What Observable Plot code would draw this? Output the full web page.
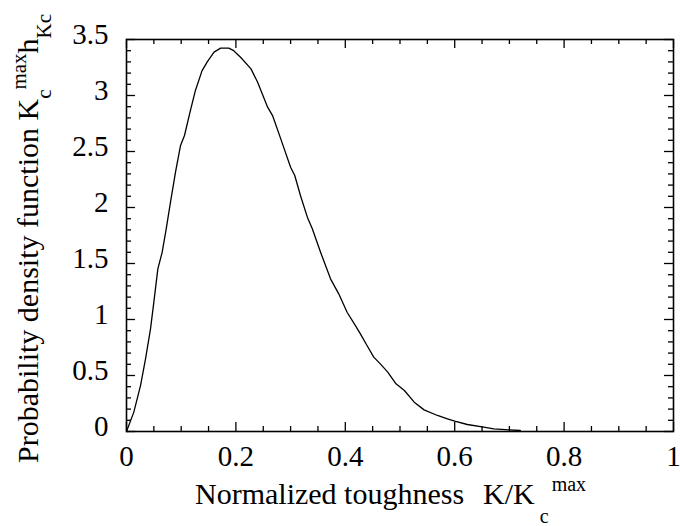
<!DOCTYPE html>
<html>
<head>
<meta charset="utf-8">
<script src="https://cdn.jsdelivr.net/npm/d3@7"></script>
<script src="https://cdn.jsdelivr.net/npm/@observablehq/plot@0.6"></script>
<style>
  html, body { margin: 0; padding: 0; background: white; }
  svg text { font-family: "Liberation Serif", "Times New Roman", serif; }
</style>
</head>
<body>
<div id="chart"></div>
<script>
// Normalized toughness K/Kc^max
const toughness = [0, 0.0134, 0.0256, 0.0348, 0.0439, 0.05, 0.0573, 0.0652, 0.0726, 0.0805, 0.0896, 0.0988, 0.106, 0.116, 0.126, 0.138, 0.1476, 0.16, 0.172, 0.187, 0.196, 0.2085, 0.2276, 0.2397, 0.258, 0.267, 0.282, 0.300, 0.3076, 0.318, 0.3306, 0.3397, 0.3548, 0.373, 0.388, 0.4033, 0.4185, 0.4276, 0.4397, 0.452, 0.464, 0.4776, 0.4927, 0.508, 0.526, 0.544, 0.5685, 0.5867, 0.6, 0.623, 0.653, 0.6715, 0.699, 0.72];
// Probability density Kc^max h_Kc
const density = [0, 0.173, 0.41, 0.649, 0.917, 1.155, 1.452, 1.60, 1.81, 2.05, 2.315, 2.554, 2.643, 2.85, 3.045, 3.22, 3.30, 3.387, 3.423, 3.423, 3.40, 3.342, 3.238, 3.119, 2.896, 2.821, 2.613, 2.36, 2.286, 2.107, 1.914, 1.81, 1.60, 1.363, 1.229, 1.065, 0.946, 0.872, 0.768, 0.664, 0.604, 0.53, 0.426, 0.366, 0.262, 0.193, 0.143, 0.113, 0.092, 0.0625, 0.039, 0.024, 0.015, 0.009];

const xMajor = [0, 0.2, 0.4, 0.6, 0.8, 1];
const xMinor = [0.05, 0.1, 0.15, 0.25, 0.3, 0.35, 0.45, 0.5, 0.55, 0.65, 0.7, 0.75, 0.85, 0.9, 0.95];
const yMajor = [0, 0.5, 1, 1.5, 2, 2.5, 3, 3.5];
const yMinor = [0.1, 0.2, 0.3, 0.4, 0.6, 0.7, 0.8, 0.9, 1.1, 1.2, 1.3, 1.4, 1.6, 1.7, 1.8, 1.9, 2.1, 2.2, 2.3, 2.4, 2.6, 2.7, 2.8, 2.9, 3.1, 3.2, 3.3, 3.4];

const data = toughness.map((x, i) => ({x, y: density[i]}));

const W = 680, H = 526;
const mL = 126, mR = 7, mT = 39, mB = 95;
const pw = W - mL - mR, ph = H - mT - mB;
const majorLen = 9, minorLen = 5;

const chart = Plot.plot({
  width: W,
  height: H,
  marginLeft: mL,
  marginRight: mR,
  marginTop: mT,
  marginBottom: mB,
  style: {fontFamily: "Liberation Serif", fontSize: "29px", background: "white", color: "black"},
  x: {domain: [0, 1]},
  y: {domain: [0, 3.5]},
  marks: [
    Plot.axisX({ticks: xMajor, tickSize: 0, tickPadding: 14, tickFormat: d => String(d), label: null, fontSize: 29}),
    Plot.axisY({ticks: yMajor, tickSize: 0, tickPadding: 18, dy: -5, tickFormat: d => String(d), label: null, fontSize: 29}),
    // inward ticks: bottom / top
    Plot.tickX(xMajor, {x: d => d, insetTop: ph - majorLen, stroke: "black", strokeWidth: 1.3}),
    Plot.tickX(xMajor, {x: d => d, insetBottom: ph - majorLen, stroke: "black", strokeWidth: 1.3}),
    Plot.tickX(xMinor, {x: d => d, insetTop: ph - minorLen, stroke: "black", strokeWidth: 1.3}),
    Plot.tickX(xMinor, {x: d => d, insetBottom: ph - minorLen, stroke: "black", strokeWidth: 1.3}),
    // inward ticks: left / right
    Plot.tickY(yMajor, {y: d => d, insetRight: pw - majorLen, stroke: "black", strokeWidth: 1.3}),
    Plot.tickY(yMajor, {y: d => d, insetLeft: pw - majorLen, stroke: "black", strokeWidth: 1.3}),
    Plot.tickY(yMinor, {y: d => d, insetRight: pw - minorLen, stroke: "black", strokeWidth: 1.3}),
    Plot.tickY(yMinor, {y: d => d, insetLeft: pw - minorLen, stroke: "black", strokeWidth: 1.3}),
    Plot.frame({stroke: "black", strokeWidth: 1.6}),
    Plot.line(data, {x: "x", y: "y", stroke: "black", strokeWidth: 1.3})
  ]
});

document.getElementById("chart").appendChild(chart);

const svg = d3.select(chart);
// x axis title
const xt = svg.append("text")
  .attr("x", 195).attr("y", 504)
  .attr("text-anchor", "start")
  .attr("font-size", 30).attr("fill", "black");
xt.append("tspan").text("Normalized toughness");
xt.append("tspan").attr("dx", 19).text("K/K");
xt.append("tspan").attr("font-size", 20).attr("dx", 5).attr("dy", 19).text("c");
xt.append("tspan").attr("font-size", 20).attr("dx", 3).attr("dy", -32).text("max");

// y axis title
const yt = svg.append("text")
  .attr("transform", "translate(38,463) rotate(-90)")
  .attr("text-anchor", "start")
  .attr("font-size", 30).attr("fill", "black");
yt.append("tspan").text("Probability density function K");
yt.append("tspan").attr("font-size", 21).attr("dy", 13).text("c");
yt.append("tspan").attr("font-size", 21).attr("dy", -25).text("max");
yt.append("tspan").attr("font-size", 30).attr("dy", 12).text("h");
yt.append("tspan").attr("font-size", 21).attr("dy", 13).text("Kc");
</script>
</body>
</html>
